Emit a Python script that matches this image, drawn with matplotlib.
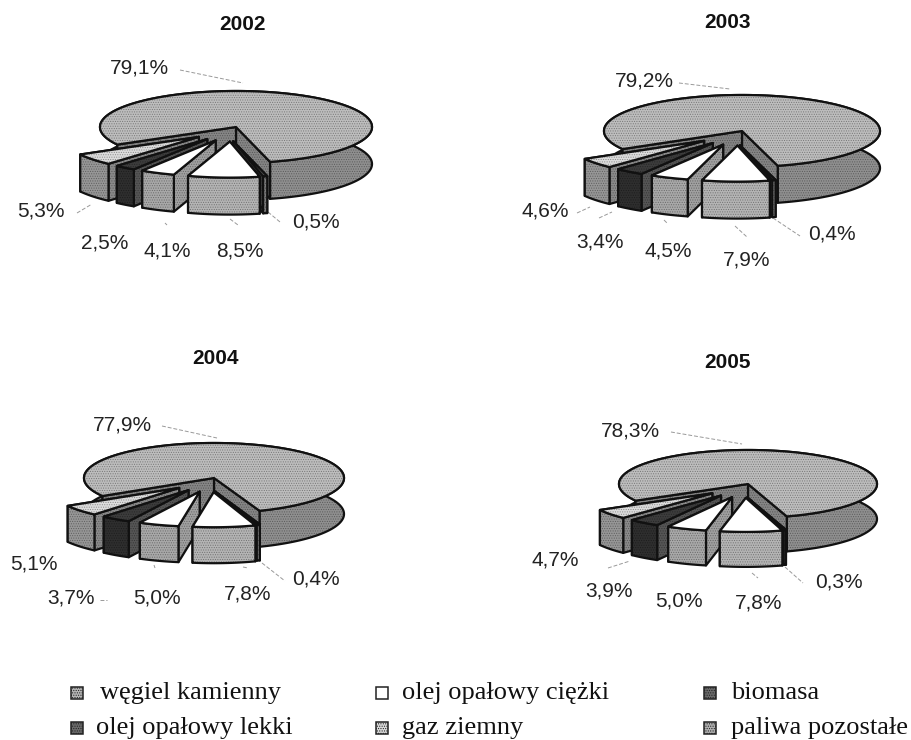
"""
Udzial paliw - four exploded 3D pies, scanned look
"""

import numpy as np
import matplotlib
matplotlib.use("Agg")
import matplotlib.pyplot as plt
from matplotlib.patches import Polygon, Rectangle

plt.rcParams['hatch.linewidth'] = 0.5

#### DATA
years = ["2002", "2003", "2004", "2005"]
fuels = ["węgiel kamienny", "olej opałowy lekki", "olej opałowy ciężki",
         "gaz ziemny", "biomasa", "paliwa pozostałe"]
# order: going clockwise from the big slice
share2002 = [79.1, 0.5, 8.5, 4.1, 2.5, 5.3]
share2003 = [79.2, 0.4, 7.9, 4.5, 3.4, 4.6]
share2004 = [77.9, 0.4, 7.8, 5.0, 3.7, 5.1]
share2005 = [78.3, 0.3, 7.8, 5.0, 3.9, 4.7]
shares = [share2002, share2003, share2004, share2005]

#### LAYOUT (pixels, y down)
centres = [(236, 127), (742, 131), (214, 478), (748, 484)]
radii = [(136, 36), (138, 36), (130, 35), (129, 34)]
depths = [37, 37, 36, 35]
starts = [-75.5, -75, -69.5, -72.5]  # where the big slice starts, degrees
explode = 0.35
nudge = [0, -14, -4, 0, 0, 0]  # the two slices next to the cut sit further left
drop = 2  # exploded slices sit a little lower than the radial shift gives
title_pos = [(243, 25), (728, 23), (216, 359), (728, 363)]

label_pos = [
    [(139, 68), (316, 222), (240, 251), (167, 251), (105, 243), (41, 211)],
    [(644, 81), (832, 234), (747, 260), (668, 251), (600, 242), (545, 211)],
    [(122, 425), (316, 579), (248, 594), (157, 598), (71, 598), (34, 564)],
    [(630, 431), (839, 582), (759, 603), (679, 601), (609, 591), (555, 560)],
]
leaders = [
    [((180, 70), (243, 83)), ((268, 212), (280, 222)), ((230, 219), (238, 225)),
     ((165, 223), (167, 225)), ((77, 213), (92, 204))],
    [((679, 83), (730, 89)), ((773, 218), (800, 236)), ((735, 226), (747, 237)),
     ((664, 220), (667, 223)), ((599, 218), (612, 212)), ((577, 213), (590, 207))],
    [((162, 426), (217, 438)), ((262, 563), (285, 581)), ((243, 567), (248, 568)),
     ((154, 565), (155, 568)), ((100, 600), (107, 600))],
    [((671, 432), (742, 444)), ((785, 567), (803, 583)), ((752, 573), (758, 578)),
     ((608, 568), (630, 561))],
]

# top, side, cut wall colours per fuel
top_col = ['#bdbdbd', '#5a5a5a', '#ffffff', '#ffffff', '#3c3c3c', '#dcdcdc']
side_col = ['#8f8f8f', '#7a7a7a', '#b4b4b4', '#a8a8a8', '#2e2e2e', '#969696']
wall_col = ['#858585', '#3a3a3a', '#909090', '#a0a0a0', '#555555', '#8a8a8a']
draw_order = [0, 1, 5, 4, 3, 2]

legend_x = [77, 382, 710]
legend_y = [693, 728]
legend_text_x = [100, 96, 402, 402, 731, 731]
legend_col = ['#b5b5b5', '#6a6a6a', '#ffffff', '#d8d8d8', '#6a6a6a', '#b0b0b0']


def stipple(fc):
    # white stays clean, everything else gets the halftone dots
    return None if fc == '#ffffff' else '.......'


def shape(ax, pts, fc, z):
    ax.add_patch(Polygon(pts, closed=True, fc=fc, ec='#00000055', hatch=stipple(fc), lw=0, zorder=z))
    ax.add_patch(Polygon(pts, closed=True, fc='none', ec='#111111', lw=1.6,
                         joinstyle='round', zorder=z))


def wedge(ax, c, r, d, a1, a2, shift, k, z):
    t = np.radians(np.linspace(a1, a2, max(int(a2 - a1) * 2, 8)))
    ox = c[0] + shift[0]
    oy = c[1] + shift[1]
    x = ox + r[0] * np.cos(t)
    y = oy - r[1] * np.sin(t)
    rim = np.column_stack([x, y])
    low = rim + [0, d]
    band = np.vstack([rim, low[::-1]])
    # the big slice has a notch, so its cut walls have to go over its rim band
    if k == 0:
        shape(ax, band, side_col[k], z)
    for i in (0, -1):
        shape(ax, [(ox, oy), rim[i], low[i], (ox, oy + d)], wall_col[k], z)
    if k != 0:
        shape(ax, band, side_col[k], z)
    shape(ax, np.vstack([[(ox, oy)], rim]), top_col[k], z)


fig = plt.figure(figsize=(9.12, 7.4), dpi=100)
ax = fig.add_axes([0, 0, 1, 1])
ax.set_xlim(0, 912)
ax.set_ylim(740, 0)
ax.axis('off')

for n in range(4):
    vals = shares[n]
    # big slice runs counter-clockwise from the start angle, the rest follow it
    edges = [starts[n], starts[n] + vals[0] * 3.6]
    for v in vals[:0:-1]:
        edges.append(edges[-1] + v * 3.6)
    spans = {0: (edges[0], edges[1])}
    for j, k in enumerate(range(5, 0, -1)):
        spans[k] = (edges[j + 1], edges[j + 2])
    z = 2
    for k in draw_order:
        a1, a2 = spans[k]
        mid = np.radians((a1 + a2) / 2)
        if k == 0:
            shift = (0, 0)
        else:
            shift = (explode * radii[n][0] * np.cos(mid) + nudge[k],
                     -explode * radii[n][1] * np.sin(mid) + drop)
        wedge(ax, centres[n], radii[n], depths[n], a1, a2, shift, k, z)
        z += 1

    ax.text(title_pos[n][0], title_pos[n][1], years[n], family='Liberation Sans',
            weight='bold', fontsize=15, ha='center', va='center', color='#111111')
    for v, p in zip(vals, label_pos[n]):
        ax.text(p[0], p[1], ("%.1f%%" % v).replace('.', ','), family='Liberation Sans',
                fontsize=15, ha='center', va='center', color='#222222')
    for a, b in leaders[n]:
        ax.plot([a[0], b[0]], [a[1], b[1]], color='#999999', lw=0.7, ls=(0, (4, 2)), zorder=1)

# legend, filled column by column
for i, name in enumerate(fuels):
    lx = legend_x[i // 2]
    ly = legend_y[i % 2]
    ax.add_patch(Rectangle((lx - 6, ly - 6), 12, 12, fc=legend_col[i], ec='#222222',
                           lw=1.1, hatch=stipple(legend_col[i])))
    ax.text(legend_text_x[i], ly, name, family='Liberation Serif', fontsize=19,
            ha='left', va='center', color='#111111')

fig.savefig("out.png", dpi=100)
